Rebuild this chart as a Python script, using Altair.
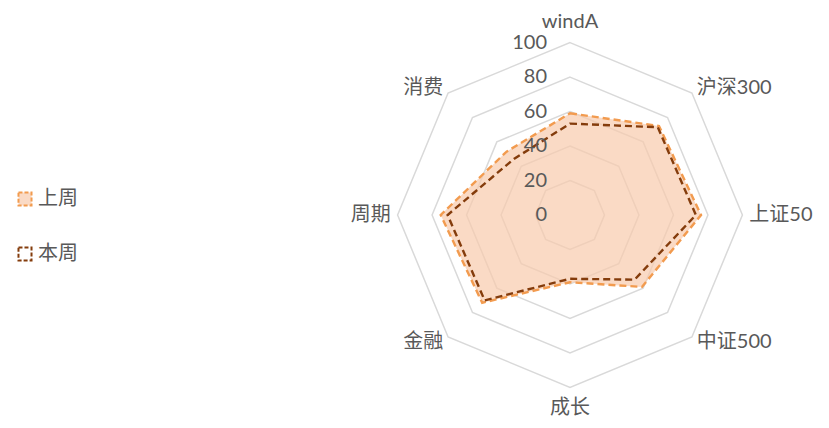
import altair as alt
import pandas as pd

categories = ["windA", "沪深300", "上证50", "中证500", "成长", "金融", "周期", "消费"]
last_week = [59, 73, 76, 59, 39, 72, 75, 52]
this_week = [53, 72, 73, 53, 37, 70, 71, 46]
series_names = ["上周", "本周"]
levels = [20, 40, 60, 80, 100]
tick_values = [0, 20, 40, 60, 80, 100]

n = len(categories)
rows = []
for name, vals in zip(series_names, [last_week, this_week]):
    for i, (c, v) in enumerate(zip(categories, vals)):
        rows.append({"series": name, "category": c, "idx": i, "value": v})
df = pd.DataFrame(rows)
rings = pd.DataFrame([{"level": l, "idx": i} for l in levels for i in range(n)])
cats = pd.DataFrame({"category": categories, "idx": list(range(n))})
ticks = pd.DataFrame({"tick": tick_values})

FONT = "Lato, 'Noto Sans CJK SC', sans-serif"
TXT = "#595959"
sc = alt.Scale(domain=[-116, 116])
THETA = f"datum.idx * 2 * PI / {n}"


def X(f):
    return alt.X(f, type="quantitative", scale=sc, axis=None)


def Y(f):
    return alt.Y(f, type="quantitative", scale=sc, axis=None)


ring_layer = alt.Chart(rings).transform_calculate(
    theta=THETA,
    x="datum.level * sin(datum.theta)",
    y="datum.level * cos(datum.theta)",
).mark_line(interpolate="linear-closed", stroke="#d9d9d9", strokeWidth=1.5).encode(
    x=X("x"), y=Y("y"), detail="level:N", order="idx:Q"
)

leg = alt.Legend(
    orient="none", legendX=-355, legendY=174, title=None,
    symbolType="square", symbolSize=170, symbolStrokeWidth=2,
    symbolDash=[4, 2], labelFont=FONT, labelFontSize=20, labelColor=TXT,
    rowPadding=33, labelOffset=3,
)

series_layer = alt.Chart(df).transform_calculate(
    theta=THETA,
    x="datum.value * sin(datum.theta)",
    y="datum.value * cos(datum.theta)",
).mark_line(interpolate="linear-closed", strokeWidth=2.4, strokeDash=[7, 4]).encode(
    x=X("x"), y=Y("y"),
    stroke=alt.Stroke("series:N", scale=alt.Scale(domain=series_names, range=["#F29B4F", "#843C0C"]), legend=leg),
    fill=alt.Fill("series:N", scale=alt.Scale(domain=series_names, range=["rgba(248,203,173,0.7)", "rgba(0,0,0,0)"]), legend=leg),
    order="idx:Q",
)

cat_base = alt.Chart(cats).transform_calculate(
    theta=THETA,
    r="abs(cos(datum.theta)) > 0.99 ? 112 : 104",
    x="datum.r * sin(datum.theta)",
    y="datum.r * cos(datum.theta)",
    s="sin(datum.theta)",
)
tp = dict(baseline="middle", font=FONT, fontSize=20, color=TXT)
lab_left = cat_base.transform_filter("datum.s > 0.1").mark_text(align="left", **tp).encode(
    x=X("x"), y=Y("y"), text="category:N")
lab_right = cat_base.transform_filter("datum.s < -0.1").mark_text(align="right", **tp).encode(
    x=X("x"), y=Y("y"), text="category:N")
lab_center = cat_base.transform_filter("abs(datum.s) <= 0.1").mark_text(align="center", **tp).encode(
    x=X("x"), y=Y("y"), text="category:N")

tick_layer = alt.Chart(ticks).transform_calculate(zero="0").mark_text(
    align="right", dx=-23, **tp
).encode(x=X("zero"), y=Y("tick"), text="tick:Q")

chart = alt.layer(
    ring_layer, series_layer, tick_layer, lab_left, lab_right, lab_center
).properties(
    width=400, height=400,
    padding={"left": 362, "top": 7, "right": 50, "bottom": 10},
    autosize="none",
).configure_view(stroke=None)

chart.save("out.html", embed_options={"renderer": "svg", "actions": False})
